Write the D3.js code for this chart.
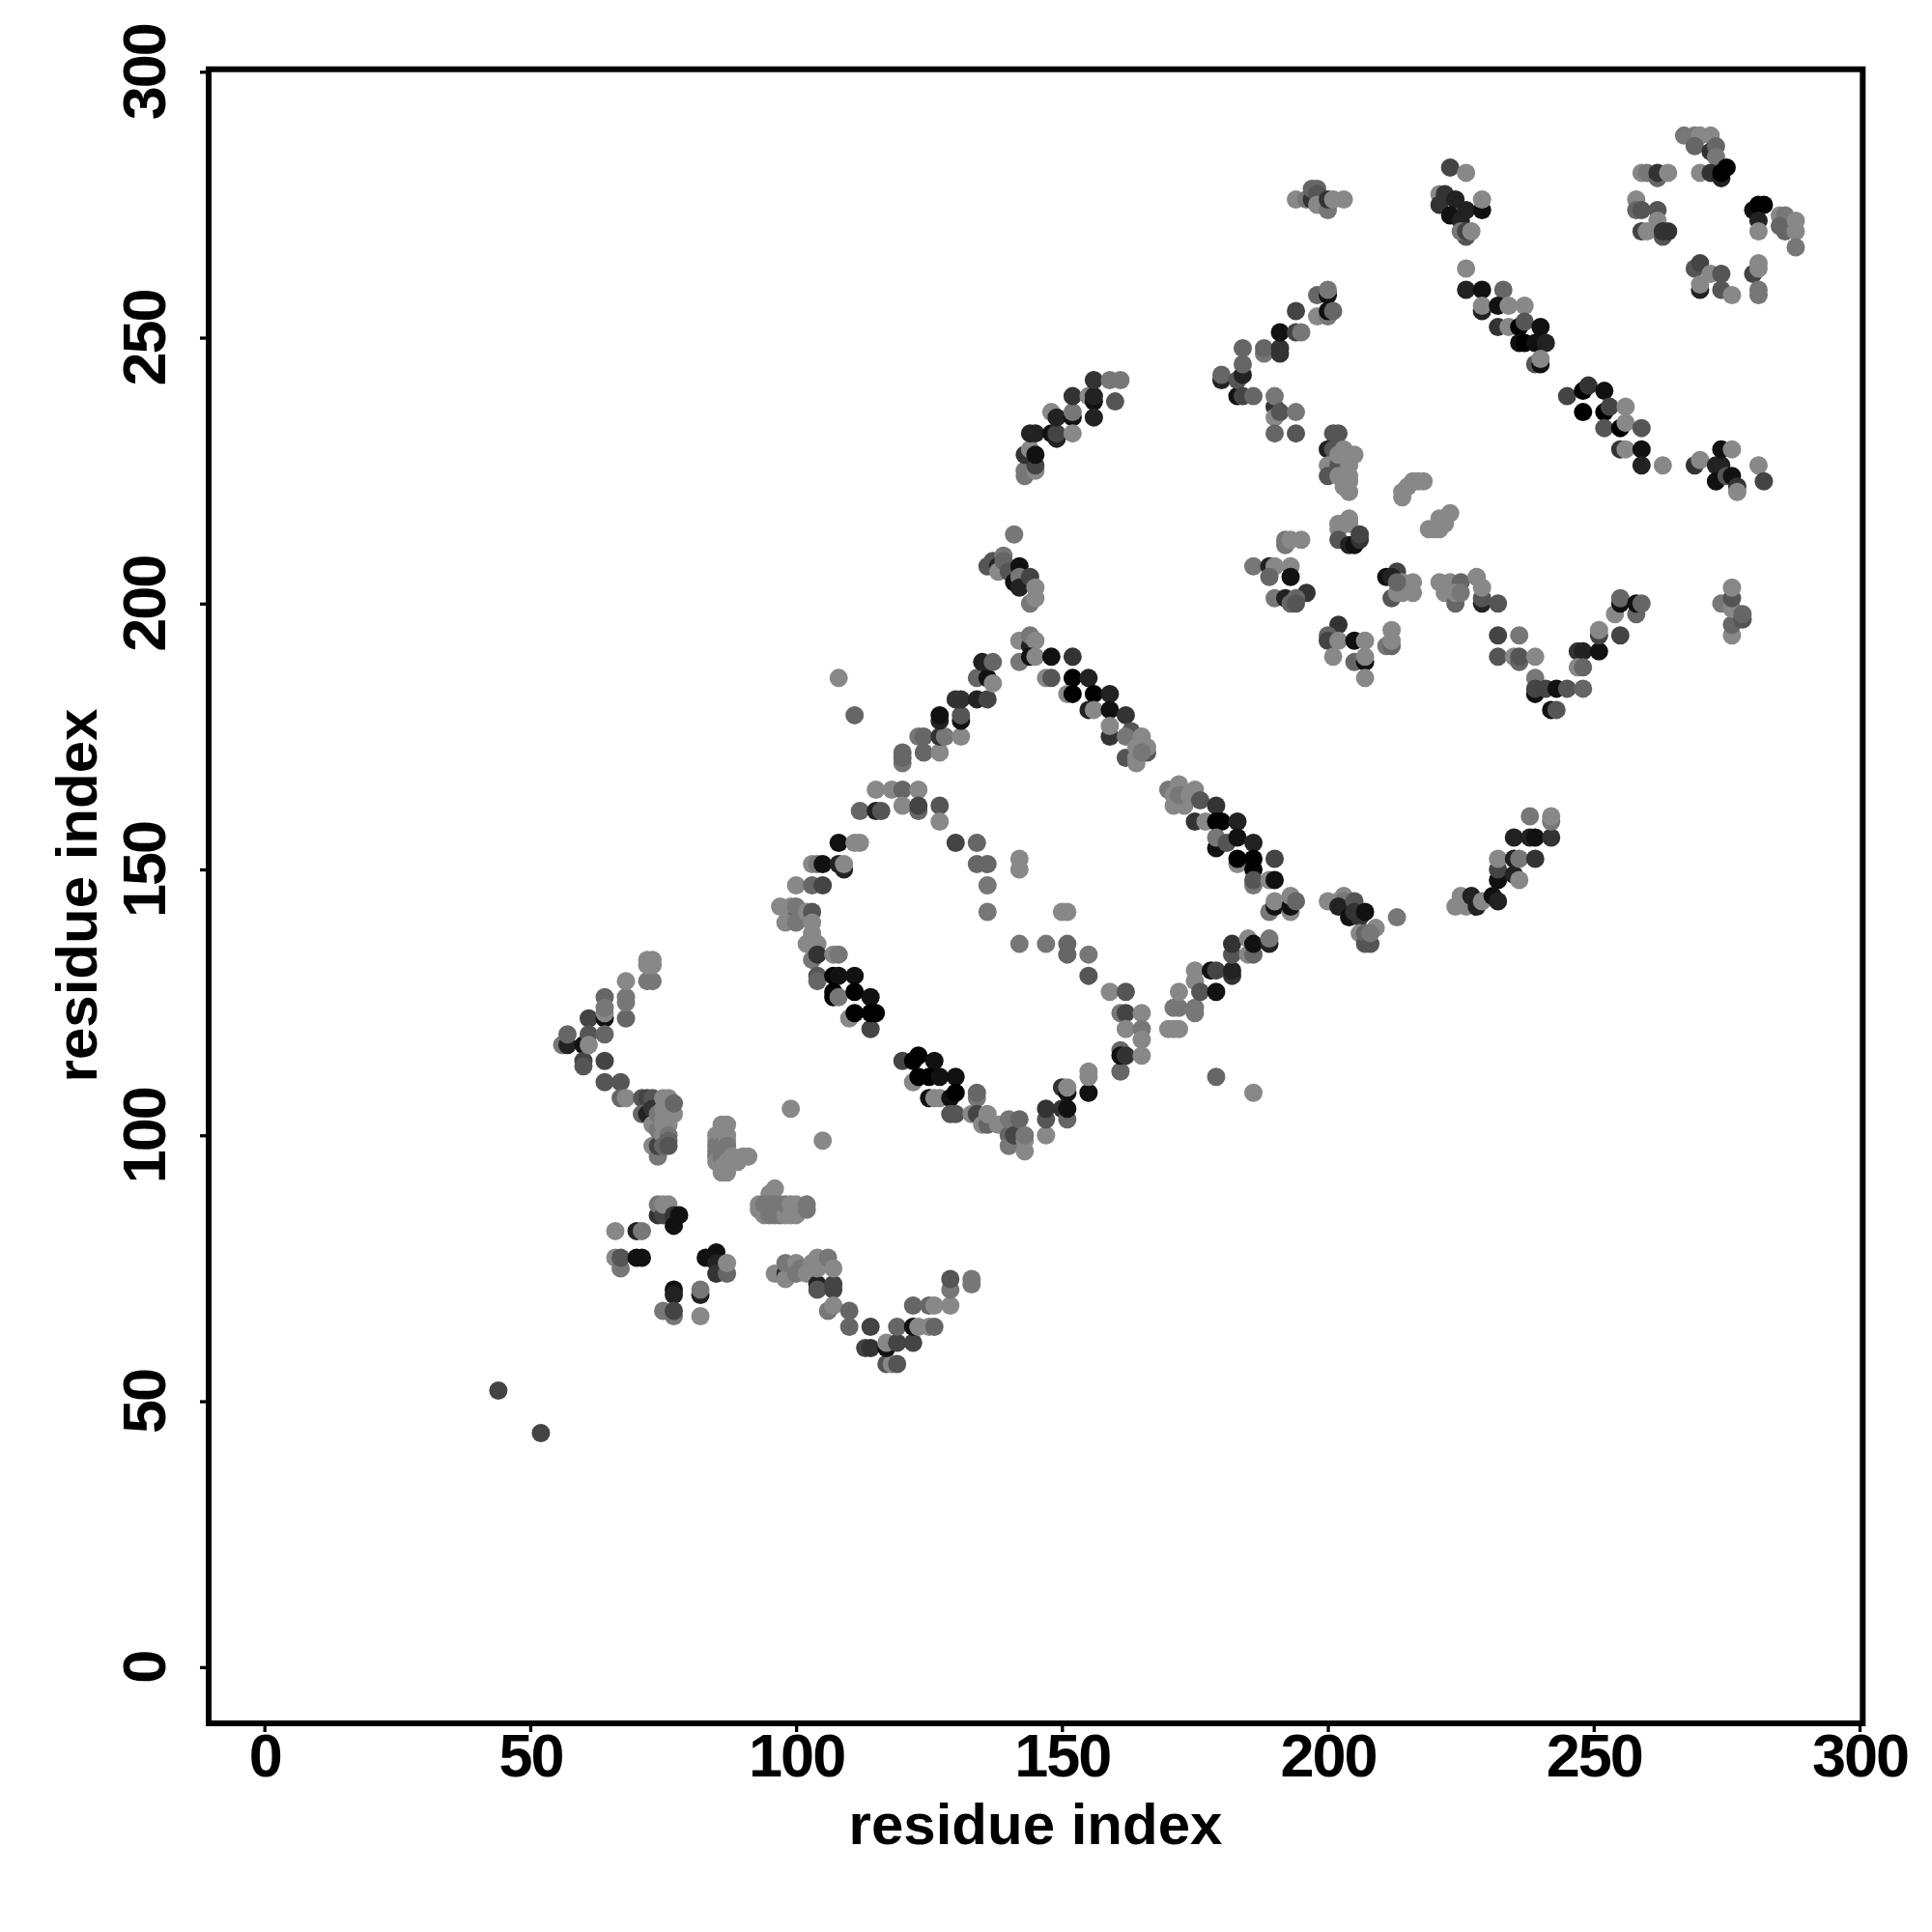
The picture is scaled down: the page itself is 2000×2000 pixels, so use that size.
<!DOCTYPE html>
<html><head><meta charset="utf-8">
<script src="https://cdn.jsdelivr.net/npm/d3@7"></script>
<style>html,body{margin:0;padding:0;background:#fff}svg{display:block}</style>
</head><body>
<svg id="c" width="2000" height="2000"></svg>
<script>
const tickValues=[0,50,100,150,200,250,300];
const axisLabel="residue index";
// each contact: [residue x, residue y, strength level 0 (grey) .. 8 (black)]
const isolated=[[44,52,4],[52,44,4],[99,105,0],[105,99,0],[108,186,0],[111,179,2],[179,111,2],[186,108,0],[213,141,1],[141,213,1],[226,263,0],[263,226,0]];
const vLeft=[[56,117,1],[57,117,6],[57,119,2],[60,117,7],[60,114,4],[60,113,3],[61,122,4],[61,119,3],[61,117,0],[64,122,7],[64,123,0],[64,126,2],[64,124,1],[64,119,2],[64,114,4],[64,110,3],[67,110,3],[67,107,2],[68,107,0],[68,122,2],[68,125,1],[68,126,1],[68,129,0],[72,129,1],[73,129,1],[72,132,0],[73,132,0],[72,133,0],[73,133,0]];
const blockA=[[71,107,3],[72,107,4],[73,107,3],[71,104,2],[72,104,6],[73,105,5],[73,102,0],[73,98,0],[74,96,1],[74,98,4],[74,104,1],[74,101,1],[75,107,0],[75,105,0],[75,103,0],[75,102,0],[75,100,0],[75,98,2],[76,107,0],[76,104,0],[76,102,0],[76,100,1],[76,99,2],[76,98,3],[77,104,0],[77,106,2]];
const blockB=[[85,100,0],[85,99,0],[85,98,1],[85,97,1],[85,96,1],[85,95,0],[86,102,0],[87,102,0],[86,100,0],[86,98,1],[86,96,1],[86,94,0],[86,93,0],[87,93,0],[87,94,0],[87,100,0],[87,99,0],[87,98,1],[87,97,1],[87,96,1],[87,95,0],[88,96,0],[89,95,0],[90,96,0],[91,96,0]];
const blockC=[[93,86,0],[93,87,0],[96,90,0],[95,89,0],[95,88,0],[94,85,0],[94,87,1],[95,85,1],[95,87,1],[96,85,1],[96,87,1],[97,85,1],[97,87,1],[98,85,0],[98,87,1],[99,85,0],[99,87,0],[100,85,0],[100,87,0],[102,87,1],[102,86,1]];
const blockD=[[74,85,5],[74,87,1],[75,85,4],[75,87,0],[76,87,0],[77,85,5],[77,83,7],[78,85,7],[66,82,0],[70,82,6],[71,82,1],[66,77,0],[67,75,1],[67,77,3],[70,77,7],[71,77,7],[83,77,7],[85,78,7],[85,76,6],[85,74,5],[87,74,2],[87,76,0],[77,71,7],[77,70,6],[75,67,1],[77,66,1],[77,67,4],[82,70,6],[82,71,1],[82,66,0]];
const bottomV=[[96,74,0],[98,74,5],[98,73,0],[98,76,1],[100,76,0],[100,74,1],[101,75,1],[102,74,0],[103,75,0],[103,76,0],[104,72,6],[104,71,3],[104,77,0],[104,75,0],[106,77,1],[107,72,4],[107,71,4],[107,75,0],[106,67,1],[107,68,0],[110,67,2],[110,64,2],[114,64,4],[113,60,4],[114,60,5],[117,57,3],[118,57,0],[119,57,3],[117,60,7],[117,61,0],[119,61,4],[122,61,4],[119,64,2],[122,64,7],[123,64,0],[125,64,0],[126,64,2],[122,68,2],[125,68,2],[126,68,0],[129,68,0],[129,71,1],[129,73,3],[133,72,1],[133,73,1]];
const ringBottom=[[120,114,4],[122,114,8],[123,115,8],[126,114,7],[122,110,0],[123,111,8],[125,111,8],[127,111,7],[130,111,7],[125,107,7],[126,107,0],[127,107,0],[129,107,7],[130,108,8],[129,104,3],[130,104,3],[134,107,1],[134,108,2],[133,104,0],[134,104,4],[135,102,0],[136,102,2],[136,104,0],[138,102,0],[140,100,2],[140,98,1],[140,103,1],[141,100,4],[142,103,2],[143,97,0],[143,99,0],[143,100,1],[147,100,0],[147,103,3],[147,105,5],[150,105,5],[151,103,2],[151,105,7],[150,109,5],[151,108,7],[151,109,0],[155,108,7],[155,111,0],[155,112,0],[161,112,2]];
const ringLeft=[[108,155,7],[111,155,0],[112,155,0],[103,151,0],[104,151,1],[105,151,7],[108,151,6],[109,150,6],[109,151,0],[97,143,0],[99,143,0],[100,141,3],[98,140,0],[100,143,1],[100,140,1],[102,142,0],[103,142,3],[100,147,0],[103,147,2],[105,147,4],[103,140,0],[103,138,0],[102,136,0],[104,136,0],[103,133,1],[104,134,5],[107,134,0],[108,134,1],[104,130,3],[104,129,2],[107,130,8],[108,130,7],[111,130,7],[107,126,8],[107,127,8],[108,126,1],[111,127,8],[114,126,7],[114,120,4],[110,122,0],[111,123,8],[114,123,8],[115,123,8]];
const ringInner=[[115,165,0],[118,165,0],[120,165,2],[123,165,0],[112,161,2],[115,161,6],[116,161,3],[120,162,0],[123,161,2],[123,162,4],[127,162,3],[127,159,0],[130,155,4],[134,155,2],[134,151,2],[136,151,2],[136,147,1],[136,142,1],[142,150,0],[142,152,0],[150,142,0],[151,142,0],[142,136,1],[147,136,1],[151,136,2],[151,134,2],[155,134,1],[155,130,3],[159,127,0],[162,127,3],[161,123,1],[162,123,4],[165,123,0],[162,120,0],[165,120,1],[165,118,0],[161,116,2],[161,115,7],[162,115,5],[165,115,0]];
const ringUpLeft=[[120,170,1],[120,171,2],[120,172,2],[123,175,1],[124,175,2],[124,172,2],[127,172,0],[127,175,5],[128,175,1],[131,175,0],[127,178,6],[127,179,7],[131,178,7],[131,179,3],[130,182,5],[131,182,5],[134,182,6],[136,182,4],[134,186,2],[136,186,7],[137,185,0],[135,189,6],[137,189,2]];
const ringApex=[[142,193,0],[144,192,6],[144,194,1],[145,193,0],[142,189,1],[144,190,7],[145,190,0],[148,190,7],[152,190,5],[147,186,0],[148,186,3],[152,186,8],[155,186,6],[151,183,0],[152,183,8],[156,183,8],[159,183,6],[155,180,6],[156,180,0],[159,180,7],[162,179,5],[159,175,5],[159,177,0],[163,176,3],[162,175,1],[165,175,0],[162,171,3],[164,170,0],[166,172,3],[164,171,0],[166,173,0],[164,173,0],[165,172,1]];
const ringUpRight=[[170,165,1],[171,164,0],[172,166,0],[171,162,0],[173,162,0],[172,164,1],[174,164,0],[175,165,0],[176,163,3],[179,162,5],[175,159,5],[177,159,0],[179,159,8],[180,159,8],[183,159,6],[179,154,7],[179,156,1],[181,155,3],[183,156,7],[186,155,6],[183,151,0],[183,152,8],[186,150,8],[186,152,8],[190,152,4],[186,147,1],[186,148,3],[189,148,0],[190,148,7],[189,142,1],[190,143,7],[190,144,0],[193,142,0],[193,143,7],[193,145,0],[194,144,2]];
const ringLowRight=[[170,120,0],[171,120,0],[172,120,0],[171,124,1],[172,124,1],[172,127,0],[175,123,1],[175,124,1],[175,129,0],[175,131,0],[176,127,3],[179,127,7],[178,131,7],[179,131,4],[182,130,5],[182,131,6],[182,134,3],[182,136,5],[185,134,0],[186,134,2],[185,137,0],[186,136,7],[189,136,6],[189,137,1]];
const midArc=[[200,144,0],[202,144,0],[203,145,0],[203,144,1],[202,143,6],[204,141,7],[205,144,3],[205,142,5],[206,141,5],[207,142,7],[206,138,0],[207,136,3],[207,138,2],[208,136,3],[209,139,0],[208,138,1]];
const midRise=[[224,143,0],[225,145,0],[226,143,0],[227,145,6],[228,143,6],[229,144,0],[231,145,7],[232,144,6],[232,148,7],[232,150,4],[232,152,0],[235,149,6],[236,148,0],[235,152,6],[236,152,1],[239,152,5],[235,156,6],[238,156,6],[239,156,7],[242,156,5],[238,160,1],[242,159,1],[242,160,0]];
const topArc=[[143,224,1],[143,225,1],[145,225,0],[145,226,4],[143,228,5],[144,229,0],[145,228,7],[144,232,6],[145,232,6],[148,232,7],[148,236,0],[149,231,6],[149,232,4],[149,235,6],[152,235,7],[152,236,1],[152,232,0],[152,239,5],[155,239,0],[156,238,7],[156,239,6],[156,235,6],[156,242,5],[159,242,1],[161,242,1],[160,238,3]];
const knot=[[136,207,3],[137,208,3],[138,207,6],[138,206,0],[139,209,1],[139,208,2],[140,206,3],[141,204,7],[142,207,7],[142,205,1],[142,203,6],[144,205,4],[144,200,1],[145,203,0],[145,201,0]];
const upperA=[[180,242,6],[180,243,2],[183,239,7],[183,242,3],[184,239,4],[184,243,6],[184,245,2],[184,248,2],[186,239,2],[190,237,5],[190,239,1],[190,235,0],[191,236,3],[194,236,1],[190,232,2],[194,232,3],[201,232,3],[202,232,3],[200,229,6],[201,229,3],[200,226,0],[203,229,0],[205,228,0],[200,224,3],[202,226,3],[202,228,0],[204,226,0],[202,224,0],[204,224,0],[204,223,0],[204,221,0],[203,222,0]];
const upperB=[[214,220,0],[214,221,0],[215,222,0],[216,223,0],[217,223,0],[218,223,0],[219,214,0],[220,214,0],[221,214,0],[221,216,0],[222,215,0],[222,216,0],[223,217,0]];
const upperC=[[202,215,0],[202,214,0],[204,216,0],[204,215,0],[202,212,3],[204,211,6],[205,211,7],[206,212,5],[206,213,4],[192,211,1],[192,212,1],[193,212,0],[195,212,0]];
const upperD=[[186,207,1],[189,207,6],[190,207,0],[193,207,0],[189,205,2],[193,205,7],[196,202,5],[190,201,1],[192,201,6],[194,201,2],[193,200,2],[194,200,3]];
const upperE=[[202,196,5],[200,194,2],[200,193,4],[202,193,0],[205,193,7],[207,193,0],[201,190,0],[205,189,2],[207,189,7],[207,190,0],[207,186,0],[212,195,0],[211,192,1],[212,192,2],[212,193,0]];
const upperF=[[211,205,7],[213,206,4],[212,205,6],[212,201,3],[213,202,0],[214,202,0],[214,204,0],[216,204,0],[216,202,0],[213,204,2]];
const upperG=[[221,204,0],[222,202,0],[223,204,0],[225,204,2],[224,200,2],[224,202,0],[225,202,1],[228,205,0],[229,200,6],[229,201,3],[229,203,0],[232,200,3]];
const valley=[[232,194,4],[236,194,1],[232,190,3],[235,190,0],[236,189,2],[236,190,3],[239,190,0],[239,186,1],[239,183,7],[239,184,4],[241,184,4],[243,184,7],[245,184,3],[248,184,2],[242,180,7],[243,180,3],[247,191,5],[248,191,6],[251,191,7],[247,188,0],[248,188,2],[251,194,4],[251,195,0],[255,194,4],[254,198,0],[255,200,7],[255,201,2],[258,198,2],[258,200,7],[259,200,2]];
const rightKnot=[[274,200,1],[276,194,0],[276,196,2],[276,199,0],[276,201,3],[276,203,0],[278,197,3],[278,198,2]];
const diagMid=[[245,239,4],[248,240,8],[249,241,5],[252,240,7],[248,236,8],[252,236,8],[253,237,4],[256,237,0],[252,233,3],[255,233,8],[256,234,0],[259,233,3],[255,229,5],[256,229,0],[259,229,7],[259,226,6]];
const knotRight=[[269,226,5],[270,227,0],[273,226,6],[274,226,6],[274,229,7],[276,229,0],[273,223,7],[275,224,3],[276,224,7],[277,222,5],[277,221,0],[281,226,0],[282,223,4]];
const topLeftGroup=[[194,276,0],[196,276,1],[197,276,5],[197,278,2],[198,278,2],[198,277,3],[198,275,0],[200,274,1],[200,276,5],[201,276,0],[203,276,0]];
const topMidGroup=[[223,282,4],[226,281,0],[221,277,0],[222,277,5],[221,275,5],[224,276,6],[223,273,7],[226,274,6],[229,274,7],[229,276,0],[225,272,6],[226,269,3],[225,270,1],[226,270,4],[227,270,0]];
const diagTop=[[226,259,6],[229,259,7],[233,259,2],[229,255,6],[229,256,0],[232,256,7],[234,256,0],[237,256,0],[232,252,5],[234,252,0],[236,252,8],[237,253,3],[240,252,7],[236,249,7],[237,249,8],[239,249,7],[241,249,6],[239,245,3],[240,245,7],[240,246,0]];
const leftRise=[[188,247,1],[188,248,2],[191,247,5],[191,248,5],[191,251,7],[194,255,4],[194,251,4],[195,251,1],[198,254,0],[200,254,1],[198,258,2],[200,258,7],[200,259,1],[200,255,7],[201,255,2]];
const rightRing=[[259,281,0],[260,281,1],[262,280,2],[262,281,5],[264,281,0],[267,288,1],[269,288,1],[270,288,0],[272,288,0],[269,286,2],[272,285,5],[273,286,2],[273,284,1],[270,281,0],[272,281,5],[274,280,6],[274,281,8],[275,282,8],[258,276,0],[258,274,2],[259,274,3],[262,274,3],[262,272,0],[259,270,4],[260,270,0],[263,269,3],[263,270,5],[264,270,5],[280,274,7],[281,275,8],[282,275,8],[281,272,6],[281,270,0],[285,273,0],[286,273,1],[285,271,2],[286,270,2],[288,272,0],[288,270,0],[288,267,1],[269,263,3],[270,264,4],[272,262,0],[274,262,3],[270,259,6],[270,260,0],[274,259,3],[276,258,0],[280,262,4],[281,263,0],[281,264,0],[281,258,1],[281,259,1]];

const contacts=[].concat(isolated,vLeft,blockA,blockB,blockC,blockD,bottomV,ringBottom,ringLeft,ringInner,ringUpLeft,ringApex,ringUpRight,ringLowRight,midArc,midRise,topArc,knot,upperA,upperB,upperC,upperD,upperE,upperF,upperG,valley,rightKnot,diagMid,knotRight,topLeftGroup,topMidGroup,diagTop,leftRise,rightRing);

const svg=d3.select("#c");
const frame={l:216,r:1928.3,t:71.7,b:1784};
const x=d3.scaleLinear().domain([0,300]).range([273.7,1925]);
const y=d3.scaleLinear().domain([0,300]).range([1725.8,74.3]);
const shade=d3.scaleLinear().domain([0,8]).range(["#888888","#000000"]);
const font='"Liberation Sans",Arial,sans-serif';

svg.append("g").selectAll("circle").data(contacts).join("circle")
  .attr("cx",d=>x(d[0])).attr("cy",d=>y(d[1])).attr("r",9.5).attr("fill",d=>shade(d[2]));

svg.append("rect").attr("x",frame.l).attr("y",frame.t).attr("width",frame.r-frame.l).attr("height",frame.b-frame.t)
  .attr("fill","none").attr("stroke","#000").attr("stroke-width",6);

const tickStyle=s=>s.style("font",`bold 63px ${font}`).style("letter-spacing","-2px").attr("text-anchor","middle").attr("fill","#000");

const gx=svg.append("g").attr("transform",`translate(0,${frame.b})`)
  .call(d3.axisBottom(x).tickValues(tickValues).tickFormat(d3.format("d")).tickSize(9).tickSizeOuter(0));
gx.select(".domain").remove();
gx.selectAll("line").attr("stroke","#000").attr("stroke-width",3.3);
gx.selectAll("text").attr("y",55).attr("dy",0).call(tickStyle);

const gy=svg.append("g").attr("transform",`translate(${frame.l},0)`)
  .call(d3.axisLeft(y).tickValues(tickValues).tickFormat(d3.format("d")).tickSize(9).tickSizeOuter(0));
gy.select(".domain").remove();
gy.selectAll("line").attr("stroke","#000").attr("stroke-width",3.3);
gy.selectAll("text").attr("x",0).attr("y",0).attr("dy",0)
  .attr("transform","translate(-45.3,0) rotate(-90)").call(tickStyle);

svg.append("text").attr("x",1072).attr("y",1909).attr("text-anchor","middle")
  .style("font",`bold 60px ${font}`).text(axisLabel);
svg.append("text").attr("transform","translate(99.5,927) rotate(-90)").attr("text-anchor","middle")
  .style("font",`bold 60px ${font}`).text(axisLabel);
</script>
</body></html>
